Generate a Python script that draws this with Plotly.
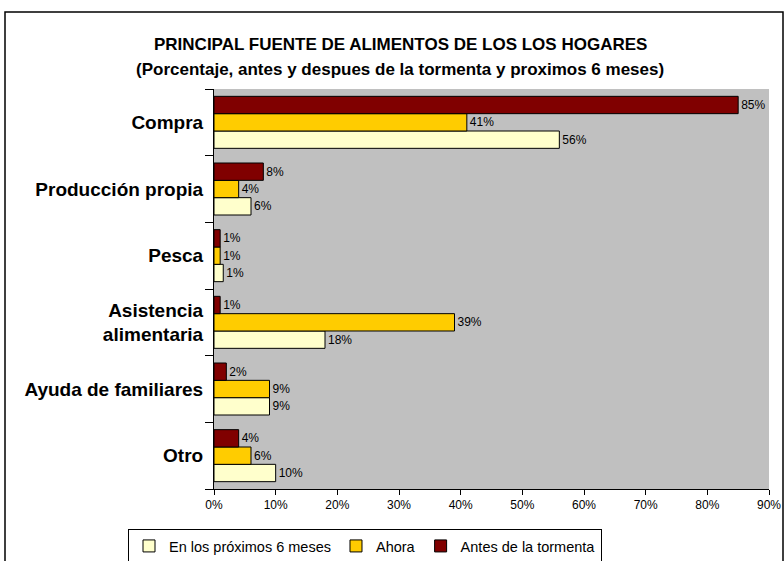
import plotly.graph_objects as go

categories = ["Compra", "Producción propia", "Pesca", "Asistencia<br>alimentaria", "Ayuda de familiares", "Otro"]
proximos = [56, 6, 1.5, 18, 9, 10]
proximos_lbl = ["56%", "6%", "1%", "18%", "9%", "10%"]
ahora = [41, 4, 1, 39, 9, 6]
ahora_lbl = ["41%", "4%", "1%", "39%", "9%", "6%"]
antes = [85, 8, 1, 1, 2, 4]
antes_lbl = ["85%", "8%", "1%", "1%", "2%", "4%"]
x_ticks = [0, 10, 20, 30, 40, 50, 60, 70, 80, 90]
x_tick_text = [f"{v}%" for v in x_ticks]

series = [
    ("En los próximos 6 meses", proximos, proximos_lbl, "#FFFFCC"),
    ("Ahora", ahora, ahora_lbl, "#FFCC00"),
    ("Antes de la tormenta", antes, antes_lbl, "#800000"),
]

FONT = "Liberation Sans, Arial"

fig = go.Figure()
for name, vals, lbls, col in series:
    fig.add_trace(go.Bar(
        y=categories, x=vals, name=name, orientation="h",
        marker=dict(color=col, line=dict(color="#000000", width=1)),
        text=lbls, textposition="outside", cliponaxis=False,
        textfont=dict(family=FONT, size=12, color="#000000"),
    ))

W, H = 784, 561
L, R, T, B = 214, 15, 89, 72
pw, ph = W - L - R, H - T - B

def px_x(p):
    return (p - L) / pw

def px_y(p):
    return (H - B - p) / ph

fig.update_layout(
    width=W, height=H,
    margin=dict(l=L, r=R, t=T, b=B, autoexpand=False),
    paper_bgcolor="#FFFFFF", plot_bgcolor="#C0C0C0",
    barmode="group", bargap=0.22, bargroupgap=0,
    font=dict(family=FONT, color="#000000"),
    showlegend=True,
    legend=dict(
        orientation="h", x=px_x(128), xanchor="left", y=px_y(529), yanchor="top",
        bgcolor="#FFFFFF", bordercolor="#000000", borderwidth=1,
        font=dict(size=14.5, family=FONT),
        traceorder="normal", itemwidth=30,
    ),
    xaxis=dict(
        range=[0, 90], tickvals=x_ticks, ticktext=x_tick_text,
        showgrid=False, zeroline=False, showline=True, linecolor="#000000",
        ticks="outside", ticklen=5, tickcolor="#000000",
        tickfont=dict(size=12, family=FONT), automargin=False,
    ),
    yaxis=dict(
        categoryorder="array", categoryarray=categories[::-1],
        showgrid=False, zeroline=False, showline=True, linecolor="#000000",
        ticks="outside", ticklen=8, tickcolor="#000000", tickson="boundaries",
        tickfont=dict(size=19, family=FONT, weight="bold"),
        ticklabelstandoff=6, automargin=False,
    ),
    shapes=[dict(
        type="rect", xref="paper", yref="paper",
        x0=px_x(5), x1=px_x(783), y0=px_y(575), y1=px_y(12),
        line=dict(color="#000000", width=1.5), fillcolor="rgba(0,0,0,0)",
        layer="below",
    )],
    annotations=[
        dict(text="<b>PRINCIPAL FUENTE DE ALIMENTOS DE LOS LOS HOGARES</b>",
             xref="paper", yref="paper", x=px_x(400), y=px_y(45),
             xanchor="center", yanchor="middle", showarrow=False,
             font=dict(size=17, family=FONT)),
        dict(text="<b>(Porcentaje, antes y despues de la tormenta y proximos 6 meses)</b>",
             xref="paper", yref="paper", x=px_x(400), y=px_y(70),
             xanchor="center", yanchor="middle", showarrow=False,
             font=dict(size=17, family=FONT)),
    ],
)

fig.write_html("out.html", config={"displayModeBar": False},
               post_script="document.body.style.margin='0';document.body.style.overflow='hidden';")
